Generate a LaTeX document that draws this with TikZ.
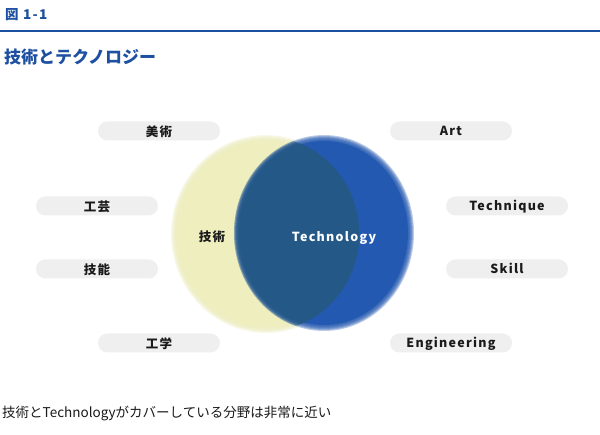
\documentclass[tikz,border=0pt]{standalone}
\usepackage{fontspec}
\setmainfont{Noto Sans CJK JP}
\newfontfamily\spacedfont[LetterSpace=10]{Noto Sans CJK JP}
\usepackage{xcolor}
\definecolor{ink}{HTML}{1A1A1A}
\definecolor{figblue}{HTML}{1E50A2}
\definecolor{yellowc}{HTML}{EEEEBE}
\definecolor{bluec}{HTML}{2459B1}
\definecolor{overlapc}{HTML}{245886}
\definecolor{pillgray}{HTML}{EFEFEF}

\tikzset{
  pill/.style={fill=pillgray,rounded corners=9.5pt,minimum width=122pt,
               minimum height=19pt,inner sep=0pt,text=ink,
               text height=12.5pt,text depth=1pt,
               font=\spacedfont\bfseries\fontsize{12.5}{14}\selectfont},
  latin/.style={text height=11pt,text depth=1pt},
  venntext/.style={inner sep=0pt,font=\spacedfont\bfseries\fontsize{12.5}{14}\selectfont},
  plaintext/.style={anchor=west,inner sep=0pt}
}

\begin{document}
\begin{tikzpicture}[x=1pt,y=-1pt]
  \useasboundingbox (0,0) rectangle (600,435);
  \fill[white] (0,0) rectangle (600,435);

  % heading
  \node[plaintext,text=figblue,font=\spacedfont\bfseries\fontsize{13.5}{15}\selectfont]
    (fignum) at (5,15) {図 1-1};
  \draw[figblue,line width=2.5pt] (0,31) -- (600,31);
  \node[plaintext,text=figblue,font=\bfseries\fontsize{17}{19}\selectfont]
    (title) at (4,57) {技術とテクノロジー};

  % the two soft circles
  \foreach \d in {3,2,...,-2}
    \fill[yellowc,opacity=0.3] (266,234) ellipse [x radius=92+\d, y radius=96+\d];
  \fill[yellowc] (266,234) ellipse [x radius=89, y radius=93];
  \foreach \d in {3,2,...,-2}
    \fill[bluec,opacity=0.3] (324,233) ellipse [x radius=87+\d, y radius=95+\d];
  \fill[bluec] (324,233) ellipse [x radius=84, y radius=92];
  % where they meet
  \begin{scope}
    \clip (266,234) ellipse [x radius=93, y radius=97];
    \foreach \d in {3,2,...,-2}
      \fill[overlapc,opacity=0.3] (324,233) ellipse [x radius=87+\d, y radius=95+\d];
    \fill[overlapc] (324,233) ellipse [x radius=84, y radius=92];
  \end{scope}

  \node[venntext,text=ink] (gijutsu) at (212,237) {技術};
  \node[venntext,text=white] (technology) at (334,238) {Technology};

  % terms
  \node[pill] (bijutsu) at (159,131) {美術};
  \node[pill] (kogei) at (97,206) {工芸};
  \node[pill] (gino) at (97,269) {技能};
  \node[pill] (kogaku) at (159,343) {工学};
  \node[pill,latin] (art) at (451,131) {Art};
  \node[pill,latin] (technique) at (507,206) {Technique};
  \node[pill,latin] (skill) at (507,269) {Skill};
  \node[pill,latin] (engineering) at (451,343) {Engineering};

  \node[plaintext,text=ink,font=\fontsize{13.5}{15}\selectfont]
    (caption) at (2,413) {技術とTechnologyがカバーしている分野は非常に近い};
\end{tikzpicture}
\end{document}
